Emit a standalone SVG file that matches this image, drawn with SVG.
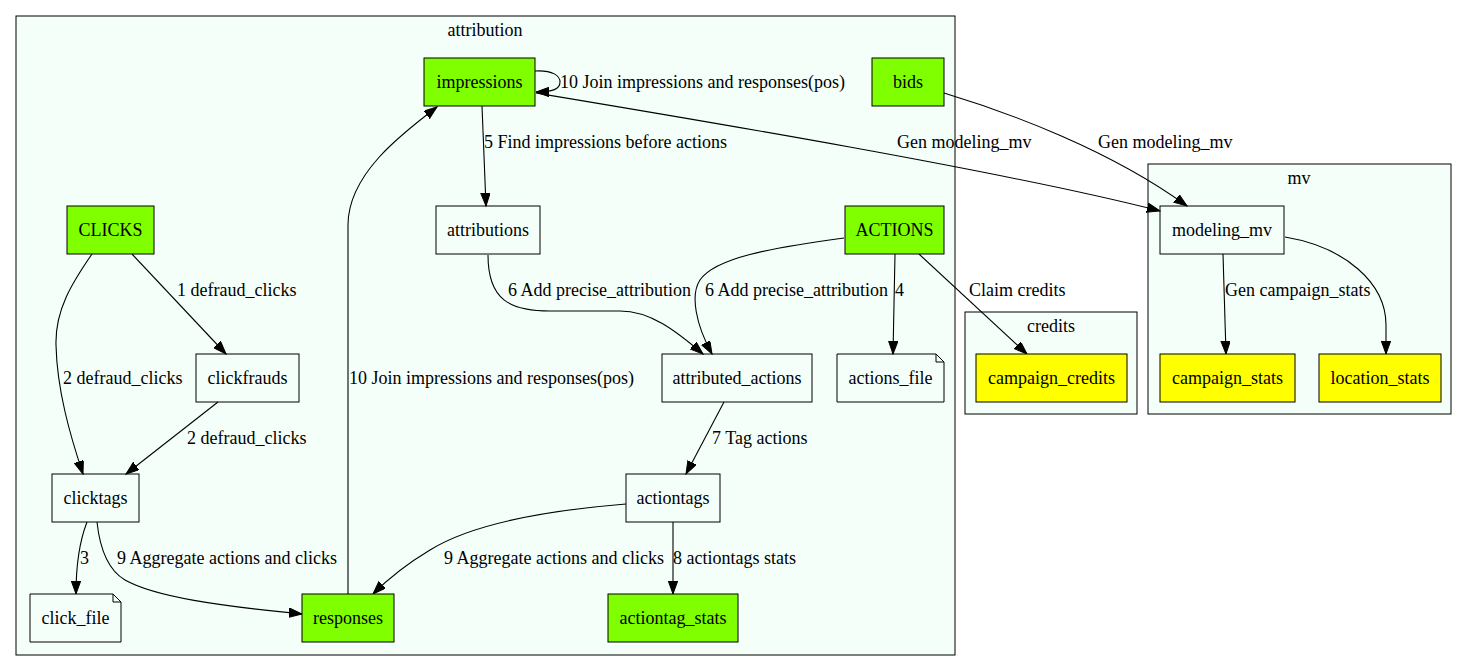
<svg xmlns="http://www.w3.org/2000/svg" width="1468" height="671" viewBox="0 0 1468 671">
<style>
text{font-family:"Liberation Serif","Times New Roman",serif;font-size:18px;fill:#000}
.n text,.cl text{text-anchor:middle}
.cl rect{fill:#f5fffa;stroke:#000;stroke-width:1}
.n rect,.n path{fill:none;stroke:#000;stroke-width:1}
.n rect.g{fill:#7fff00}
.n rect.y{fill:#ffff00}
.e path{fill:none;stroke:#000;stroke-width:1.1;marker-end:url(#ah)}
</style>
<defs>
<marker id="ah" markerUnits="userSpaceOnUse" markerWidth="14" markerHeight="10" refX="13" refY="4.7" orient="auto">
<path d="M0,0 L13,4.7 L0,9.4 z" fill="#000" stroke="#000" stroke-width="1"/>
</marker>
</defs>
<rect width="1468" height="671" fill="#fff"/>
<g id="clusters" class="cl">
<g id="cluster_attribution"><rect x="16" y="16" width="939" height="639"/><text x="485" y="36">attribution</text></g>
<g id="cluster_credits"><rect x="965" y="312" width="172" height="102"/><text x="1051" y="332">credits</text></g>
<g id="cluster_mv"><rect x="1148" y="164" width="303" height="250"/><text x="1299" y="184">mv</text></g>
</g>
<g id="edges" class="e">
<path d="M535,71 C553,70 560,76 560,82 C560,89 553,92 536,92"/>
<path d="M536,93 C680,117 1000,170 1160,211"/>
<path d="M944,93 C1010,113 1110,150 1187,206"/>
<path d="M1223,254 L1226,354"/>
<path d="M1285,237 C1345,247 1386,283 1386,325 L1386,354"/>
<path d="M919,254 L1027,354"/>
<path d="M895,254 L893,354"/>
<path d="M844,238 C770,248 715,258 700,280 C690,295 696,325 712,354"/>
<path d="M488,255 C488,300 510,311 550,311 L620,311 C650,311 675,330 703,354"/>
<path d="M482,106 L486,206"/>
<path d="M132,254 L226,354"/>
<path d="M92,254 C72,283 55,310 56,345 C57,390 70,435 83,474"/>
<path d="M218,402 L126,474"/>
<path d="M87,522 C80,540 76,565 76,594"/>
<path d="M97,522 C100,550 108,570 125,580 C155,597 220,606 302,614"/>
<path d="M626,504 C540,511 470,525 430,550 C410,562 390,577 373,594"/>
<path d="M673,522 L673,594"/>
<path d="M724,402 L686,474"/>
<path d="M348,594 L348,225 C348,175 400,135 437,107"/>
</g>
<g id="edge-labels">
<text x="560" y="88">10 Join impressions and responses(pos)</text>
<text x="484" y="148">5 Find impressions before actions</text>
<text x="897" y="148">Gen modeling_mv</text>
<text x="1098" y="148">Gen modeling_mv</text>
<text x="177" y="296">1 defraud_clicks</text>
<text x="508" y="296">6 Add precise_attribution</text>
<text x="705" y="296">6 Add precise_attribution</text>
<text x="895" y="296">4</text>
<text x="969" y="296">Claim credits</text>
<text x="1225" y="296">Gen campaign_stats</text>
<text x="63" y="384">2 defraud_clicks</text>
<text x="349" y="384">10 Join impressions and responses(pos)</text>
<text x="187" y="444">2 defraud_clicks</text>
<text x="712" y="444">7 Tag actions</text>
<text x="80" y="564">3</text>
<text x="117" y="564">9 Aggregate actions and clicks</text>
<text x="444" y="564">9 Aggregate actions and clicks</text>
<text x="673" y="564">8 actiontags stats</text>
</g>
<g id="impressions" class="n"><rect class="g" x="424" y="58" width="111" height="48"/><text x="479.5" y="88">impressions</text></g>
<g id="bids" class="n"><rect class="g" x="872" y="58" width="72" height="48"/><text x="908" y="88">bids</text></g>
<g id="CLICKS" class="n"><rect class="g" x="67" y="206" width="87" height="48"/><text x="110.5" y="236">CLICKS</text></g>
<g id="attributions" class="n"><rect x="436" y="206" width="104" height="48"/><text x="488" y="236">attributions</text></g>
<g id="ACTIONS" class="n"><rect class="g" x="845" y="206" width="99" height="48"/><text x="894.5" y="236">ACTIONS</text></g>
<g id="modeling_mv" class="n"><rect x="1160" y="206" width="124" height="48"/><text x="1222" y="236">modeling_mv</text></g>
<g id="clickfrauds" class="n"><rect x="196" y="354" width="103" height="48"/><text x="247.5" y="384">clickfrauds</text></g>
<g id="attributed_actions" class="n"><rect x="662" y="354" width="150" height="48"/><text x="737" y="384">attributed_actions</text></g>
<g id="actions_file" class="n"><path d="M837,354 H936 L944,362 V402 H837 Z M936,354 V362 H944"/><text x="890.5" y="384">actions_file</text></g>
<g id="campaign_credits" class="n"><rect class="y" x="976" y="354" width="151" height="48"/><text x="1051.5" y="384">campaign_credits</text></g>
<g id="campaign_stats" class="n"><rect class="y" x="1160" y="354" width="135" height="48"/><text x="1227.5" y="384">campaign_stats</text></g>
<g id="location_stats" class="n"><rect class="y" x="1319" y="354" width="122" height="48"/><text x="1380" y="384">location_stats</text></g>
<g id="clicktags" class="n"><rect x="52" y="474" width="87" height="48"/><text x="95.5" y="504">clicktags</text></g>
<g id="actiontags" class="n"><rect x="626" y="474" width="94" height="48"/><text x="673" y="504">actiontags</text></g>
<g id="click_file" class="n"><path d="M30,594 H113 L121,602 V642 H30 Z M113,594 V602 H121"/><text x="75.5" y="624">click_file</text></g>
<g id="responses" class="n"><rect class="g" x="302" y="594" width="92" height="48"/><text x="348" y="624">responses</text></g>
<g id="actiontag_stats" class="n"><rect class="g" x="608" y="594" width="130" height="48"/><text x="673" y="624">actiontag_stats</text></g>
</svg>
